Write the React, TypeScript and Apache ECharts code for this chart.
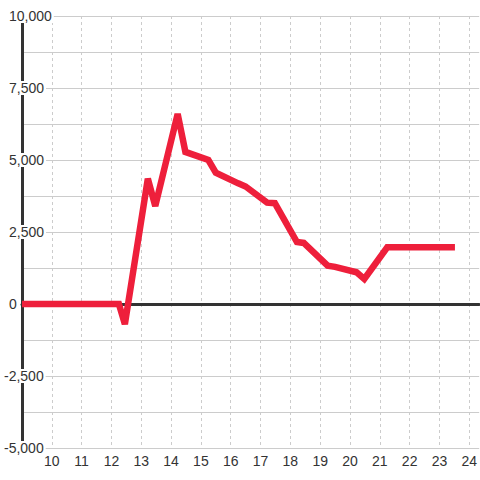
import React, { useEffect, useRef } from "react";
import * as echarts from "echarts";

const hours = [9, 12.25, 12.45, 13.22, 13.47, 14.22, 14.48, 15.25, 15.5, 16.25, 16.5, 17.22, 17.48, 18.22, 18.45, 19.25, 19.5, 20.22, 20.48, 21.25, 23.52];
const values = [0, 0, -700, 4350, 3400, 6600, 5280, 5000, 4560, 4190, 4080, 3520, 3500, 2150, 2120, 1330, 1290, 1100, 870, 1970, 1970];

const xMin = 9;
const xMax = 24.333;
const yMin = -5000;
const yMax = 10000;
const yStep = 2500;

const FONT = "'Liberation Sans', Arial, sans-serif";

export default function App() {
  const ref = useRef<HTMLDivElement>(null);
  useEffect(() => {
    document.body.style.margin = "0";
    if (!ref.current) return;
    const chart = echarts.init(ref.current, undefined, { renderer: "svg" });
    const data = hours.map((h, i) => [h, values[i]]);
    chart.setOption({
      animation: false,
      backgroundColor: "#fff",
      grid: { left: 20, right: 0, top: 16, bottom: 32, containLabel: false },
      xAxis: [
        {
          type: "value",
          min: xMin,
          max: xMax,
          interval: 1,
          axisLine: { show: false, onZero: false },
          axisTick: { show: false },
          axisLabel: {
            color: "#333",
            fontSize: 14,
            fontFamily: FONT,
            margin: 6,
            showMinLabel: false,
            showMaxLabel: false,
          },
          splitLine: {
            show: true,
            showMaxLine: false,
            lineStyle: { color: "#ccc", width: 1, type: [3, 3] },
          },
        },
        {
          type: "value",
          min: xMin,
          max: xMax,
          position: "top",
          axisLine: { show: true, onZero: true, lineStyle: { color: "#333", width: 3 } },
          axisTick: { show: false },
          axisLabel: { show: false },
          splitLine: { show: false },
        },
      ],
      yAxis: {
        type: "value",
        min: yMin,
        max: yMax,
        interval: yStep,
        axisLine: { show: true, onZero: false, lineStyle: { color: "#333", width: 3 } },
        axisTick: { show: false },
        axisLabel: {
          color: "#333",
          fontSize: 14,
          fontFamily: FONT,
          align: "left",
          margin: 19,
          backgroundColor: "#fff",
          padding: [0, 2, 0, 1],
          formatter: (v: number) => {
            const s = (v < 0 ? "-" : "") + Math.abs(v).toLocaleString("en-US");
            return v < 0 ? s : "{g| }" + s;
          },
          rich: { g: { width: 5, fontSize: 14, fontFamily: FONT } },
        },
        splitLine: { show: true, lineStyle: { color: "#ccc", width: 1 } },
        minorTick: { show: false, splitNumber: 2 },
        minorSplitLine: { show: true, lineStyle: { color: "#ccc", width: 1 } },
      },
      series: [
        {
          type: "line",
          xAxisIndex: 0,
          data,
          showSymbol: false,
          symbol: "none",
          lineStyle: { color: "#ee1f3b", width: 6.5, join: "miter", cap: "butt" },
          z: 5,
        },
      ],
    });
    return () => chart.dispose();
  }, []);
  return <div ref={ref} style={{ position: "absolute", left: 0, top: 0, width: 480, height: 480 }} />;
}
